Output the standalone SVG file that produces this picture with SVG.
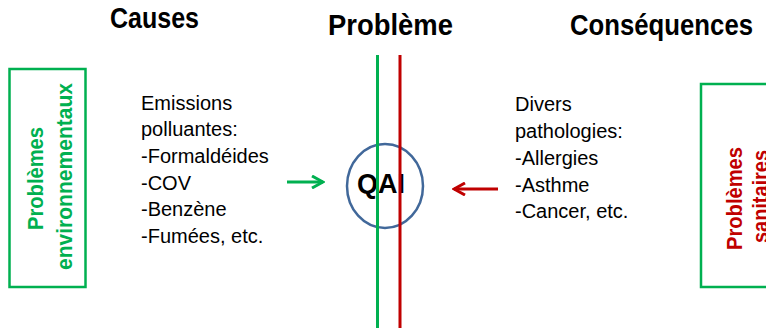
<svg xmlns="http://www.w3.org/2000/svg" width="766" height="328" viewBox="0 0 766 328">
<style>
.h{font-family:"Liberation Sans",Arial,sans-serif;font-weight:bold;font-size:29px;fill:#000}
.b{font-family:"Liberation Sans",Arial,sans-serif;font-size:20px;fill:#000}
.v{font-family:"Liberation Sans",Arial,sans-serif;font-weight:bold;font-size:22px;text-anchor:middle}
.box{fill:none;stroke:#00B050;stroke-width:2.5}
</style>
<defs>
<marker id="ag" markerWidth="14" markerHeight="14" refX="12" refY="7" orient="auto" markerUnits="userSpaceOnUse"><path d="M1,1 L12,7 L1,13" fill="none" stroke="#00B050" stroke-width="3"/></marker>
<marker id="ar" markerWidth="14" markerHeight="14" refX="12" refY="7" orient="auto" markerUnits="userSpaceOnUse"><path d="M1,1 L12,7 L1,13" fill="none" stroke="#C00000" stroke-width="3"/></marker>
</defs>
<g id="headers">
<text class="h" x="110" y="28" textLength="89" lengthAdjust="spacingAndGlyphs">Causes</text>
<text class="h" x="328" y="35" textLength="125" lengthAdjust="spacingAndGlyphs">Problème</text>
<text class="h" x="570" y="35" textLength="183" lengthAdjust="spacingAndGlyphs">Conséquences</text>
</g>
<g id="env">
<rect class="box" x="9.5" y="69" width="76" height="218"/>
<text class="v" fill="#00B050" transform="translate(43,178.5) rotate(-90)" textLength="103" lengthAdjust="spacingAndGlyphs">Problèmes</text>
<text class="v" fill="#00B050" transform="translate(72,176.5) rotate(-90)" textLength="187" lengthAdjust="spacingAndGlyphs">environnementaux</text>
</g>
<g id="san">
<rect class="box" x="701" y="84" width="100" height="203"/>
<text class="v" fill="#C00000" transform="translate(742,198.5) rotate(-90)" textLength="103" lengthAdjust="spacingAndGlyphs">Problèmes</text>
<text class="v" fill="#C00000" transform="translate(768,196.5) rotate(-90)" textLength="93" lengthAdjust="spacingAndGlyphs">sanitaires</text>
</g>
<g id="causes">
<text class="b" x="141" y="110">Emissions</text>
<text class="b" x="141" y="136">polluantes:</text>
<text class="b" x="141" y="163">-Formaldéides</text>
<text class="b" x="141" y="190">-COV</text>
<text class="b" x="141" y="216">-Benzène</text>
<text class="b" x="141" y="243">-Fumées, etc.</text>
</g>
<g id="consequences">
<text class="b" x="515" y="111">Divers</text>
<text class="b" x="515" y="138">pathologies:</text>
<text class="b" x="515" y="165">-Allergies</text>
<text class="b" x="515" y="192">-Asthme</text>
<text class="b" x="515" y="218">-Cancer, etc.</text>
</g>
<g id="qai">
<ellipse cx="385" cy="186" rx="38" ry="42" fill="none" stroke="#41689A" stroke-width="2.5"/>
<text x="357" y="193" font-family="Liberation Sans, Arial, sans-serif" font-weight="bold" font-size="28" textLength="48" lengthAdjust="spacingAndGlyphs">QAI</text>
</g>
<g id="connectors">
<line x1="377.5" y1="55" x2="377.5" y2="328" stroke="#00B050" stroke-width="3"/>
<line x1="400" y1="55" x2="400" y2="328" stroke="#C00000" stroke-width="3"/>
<line x1="287" y1="182" x2="323" y2="182" stroke="#00B050" stroke-width="3" marker-end="url(#ag)"/>
<line x1="498" y1="189" x2="454" y2="189" stroke="#C00000" stroke-width="3" marker-end="url(#ar)"/>
</g>
</svg>
